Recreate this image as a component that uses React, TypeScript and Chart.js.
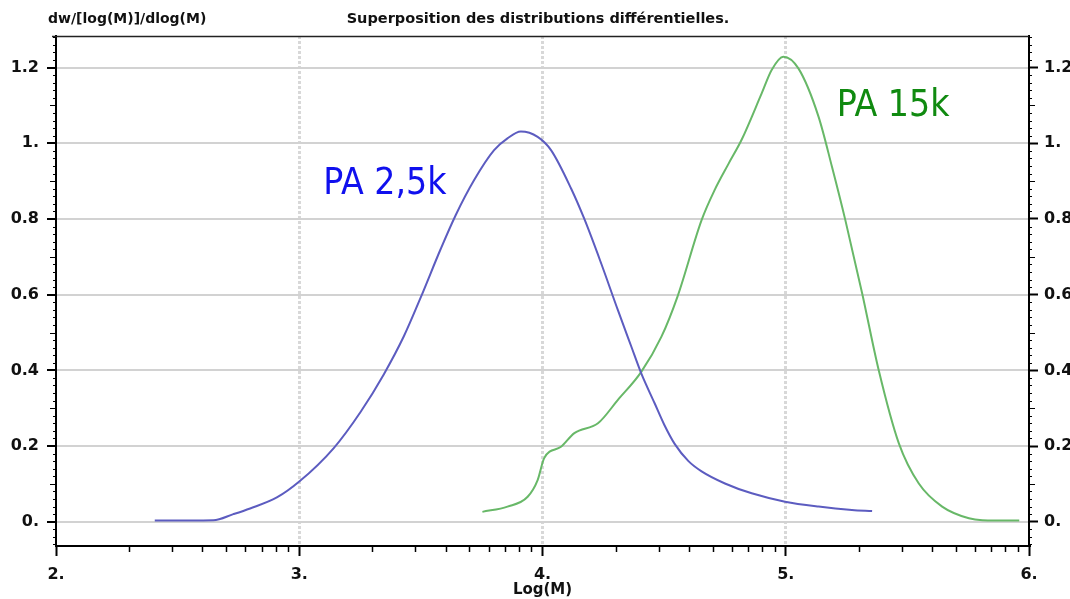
import React, { useEffect, useRef } from "react";
import { Chart, registerables } from "chart.js";

Chart.register(...registerables);

// ---- Data ----
const blueLogM = [2.406, 2.647, 2.729, 2.798, 2.908, 3.0, 3.141, 3.252, 3.348, 3.43, 3.499, 3.581, 3.643, 3.719, 3.801, 3.856, 3.911, 3.98, 4.035, 4.118, 4.172, 4.241, 4.31, 4.365, 4.406, 4.461, 4.5, 4.544, 4.6, 4.654, 4.75, 4.86, 4.997, 5.135, 5.272, 5.355];
const blueW = [0.003, 0.004, 0.02, 0.035, 0.064, 0.106, 0.194, 0.29, 0.39, 0.49, 0.592, 0.72, 0.81, 0.903, 0.982, 1.013, 1.031, 1.017, 0.982, 0.88, 0.8, 0.683, 0.559, 0.463, 0.392, 0.313, 0.257, 0.205, 0.16, 0.133, 0.101, 0.075, 0.053, 0.04, 0.031, 0.028];

const greenLogM = [3.753, 3.856, 3.939, 3.98, 4.007, 4.076, 4.131, 4.228, 4.31, 4.406, 4.489, 4.555, 4.654, 4.708, 4.764, 4.819, 4.901, 4.942, 4.99, 5.052, 5.135, 5.19, 5.245, 5.314, 5.382, 5.465, 5.547, 5.643, 5.753, 5.808, 5.96];
const greenW = [0.026, 0.04, 0.066, 0.11, 0.168, 0.198, 0.234, 0.26, 0.322, 0.396, 0.489, 0.595, 0.797, 0.877, 0.945, 1.01, 1.132, 1.194, 1.229, 1.198, 1.07, 0.938, 0.797, 0.604, 0.401, 0.207, 0.101, 0.04, 0.009, 0.004, 0.003];

const seriesNames = ["PA 2,5k", "PA 15k"];
const seriesLabelX = [3.099, 5.21];
const seriesLabelY = [0.866, 1.072];

const xTickValues = [2, 3, 4, 5, 6];
const xTickLabels = ["2.", "3.", "4.", "5.", "6."];
const xGridValues = [3, 4, 5];
const yTickValues = [0, 0.2, 0.4, 0.6, 0.8, 1.0, 1.2];
const yTickLabels = ["0.", "0.2", "0.4", "0.6", "0.8", "1.", "1.2"];

const titleText = "Superposition des distributions différentielles.";
const yUnitText = "dw/[log(M)]/dlog(M)";
const xTitleText = "Log(M)";

const BLUE = "rgb(92,92,192)";
const GREEN = "rgb(104,184,104)";
const AXIS_FONT = '"DejaVu Sans", sans-serif';

const decorPlugin = {
  id: "decor",
  afterDraw(chart: any) {
    const { ctx, chartArea: ca, scales } = chart;
    const xs = scales.x;
    const ys = scales.y;
    ctx.save();

    // Header texts
    ctx.fillStyle = "#111";
    ctx.textBaseline = "middle";
    ctx.textAlign = "left";
    ctx.font = `bold 14px ${AXIS_FONT}`;
    ctx.fillText(yUnitText, 48, 19);
    ctx.textAlign = "center";
    ctx.font = `bold 14.5px ${AXIS_FONT}`;
    ctx.fillText(titleText, 538, 19);

    // Top frame line
    ctx.strokeStyle = "#222";
    ctx.lineWidth = 1.5;
    ctx.beginPath();
    ctx.moveTo(ca.left - 4, ca.top + 0.5);
    ctx.lineTo(ca.right, ca.top + 0.5);
    ctx.stroke();

    // Minor log ticks on x axis
    ctx.strokeStyle = "#000";
    ctx.lineWidth = 1.5;
    for (let d = 2; d < 6; d++) {
      for (let k = 2; k <= 9; k++) {
        const px = Math.round(xs.getPixelForValue(d + Math.log10(k))) + 0.5;
        ctx.beginPath();
        ctx.moveTo(px, ca.bottom);
        ctx.lineTo(px, ca.bottom + 6);
        ctx.stroke();
      }
    }

    // Minor ticks on both y axes
    ctx.lineWidth = 1.2;
    for (let i = -3; i <= 64; i++) {
      const v = i * 0.02;
      if (v < ys.min || v > ys.max) continue;
      if (i % 10 === 0) continue;
      const py = Math.round(ys.getPixelForValue(v)) + 0.5;
      const len = i % 5 === 0 ? 6 : 3;
      ctx.beginPath();
      ctx.moveTo(ca.left - len, py);
      ctx.lineTo(ca.left + 1, py);
      ctx.moveTo(ca.right - 1, py);
      ctx.lineTo(ca.right + len, py);
      ctx.stroke();
    }

    // Series labels
    ctx.font = '37px "DejaVu Sans Condensed", "DejaVu Sans", sans-serif';
    ctx.textAlign = "left";
    ctx.textBaseline = "alphabetic";
    const colors = ["#1010ee", "#108a10"];
    seriesNames.forEach((name, i) => {
      ctx.fillStyle = colors[i];
      ctx.fillText(name, xs.getPixelForValue(seriesLabelX[i]), ys.getPixelForValue(seriesLabelY[i]));
    });

    ctx.restore();
  },
};

export default function App() {
  const canvasRef = useRef<HTMLCanvasElement | null>(null);

  useEffect(() => {
    if (!canvasRef.current) return;
    const yMin = -0.0642;
    const yMax = 1.2836;
    const yTickCb = (v: any) => {
      const idx = yTickValues.findIndex((t) => Math.abs(t - v) < 1e-6);
      return idx >= 0 ? yTickLabels[idx] : "";
    };
    const yTicksBuild = (scale: any) => {
      scale.ticks = yTickValues.map((v) => ({ value: v }));
    };
    const chart = new Chart(canvasRef.current, {
      type: "line",
      data: {
        datasets: [
          {
            label: seriesNames[0],
            data: blueLogM.map((x, i) => ({ x, y: blueW[i] })),
            borderColor: BLUE,
            borderWidth: 2,
            pointRadius: 0,
            cubicInterpolationMode: "monotone",
            fill: false,
          },
          {
            label: seriesNames[1],
            data: greenLogM.map((x, i) => ({ x, y: greenW[i] })),
            borderColor: GREEN,
            borderWidth: 2,
            pointRadius: 0,
            cubicInterpolationMode: "monotone",
            fill: false,
          },
        ],
      },
      options: {
        animation: false,
        responsive: false,
        devicePixelRatio: 1,
        layout: { padding: { top: 36, left: 0, right: 0, bottom: 0 } },
        plugins: {
          legend: { display: false },
          tooltip: { enabled: false },
          title: { display: false },
        },
        scales: {
          x: {
            type: "linear",
            min: 2,
            max: 6,
            afterBuildTicks: (scale: any) => {
              scale.ticks = xTickValues.map((v) => ({ value: v }));
            },
            afterFit: (scale: any) => {
              scale.height = 53;
            },
            ticks: {
              autoSkip: false,
              maxRotation: 0,
              padding: 9,
              color: "#111",
              font: { family: AXIS_FONT, size: 16, weight: "bold" },
              callback: (v: any) => {
                const idx = xTickValues.indexOf(Number(v));
                return idx >= 0 ? xTickLabels[idx] : "";
              },
            },
            grid: {
              color: (c: any) => (c.tick && xGridValues.includes(c.tick.value) ? "#d8d8d8" : "rgba(0,0,0,0)"),
              lineWidth: 3,
              tickColor: "#000",
              tickLength: 10,
              tickWidth: 2,
            },
            border: { display: true, color: "#000", width: 2, dash: [3, 2] },
            title: {
              display: true,
              text: xTitleText,
              color: "#111",
              font: { family: AXIS_FONT, size: 15, weight: "bold" },
              padding: { top: 0, bottom: 0 },
            },
          },
          y: {
            type: "linear",
            position: "left",
            min: yMin,
            max: yMax,
            afterBuildTicks: yTicksBuild,
            afterFit: (scale: any) => {
              scale.width = 56;
            },
            ticks: {
              autoSkip: false,
              padding: 8,
              color: "#111",
              font: { family: AXIS_FONT, size: 16, weight: "bold" },
              callback: yTickCb,
            },
            grid: {
              color: "#d2d2d2",
              lineWidth: 2,
              tickColor: "#000",
              tickLength: 9,
              tickWidth: 2,
            },
            border: { display: true, color: "#000", width: 2 },
          },
          y2: {
            type: "linear",
            position: "right",
            min: yMin,
            max: yMax,
            afterBuildTicks: yTicksBuild,
            afterFit: (scale: any) => {
              scale.width = 41;
            },
            ticks: {
              autoSkip: false,
              padding: 6,
              color: "#111",
              font: { family: AXIS_FONT, size: 16, weight: "bold" },
              callback: yTickCb,
            },
            grid: {
              drawOnChartArea: false,
              tickColor: "#000",
              tickLength: 9,
              tickWidth: 2,
            },
            border: { display: true, color: "#000", width: 2 },
          },
        },
      } as any,
      plugins: [decorPlugin],
    });
    return () => chart.destroy();
  }, []);

  return (
    <div style={{ position: "absolute", left: 0, top: 0, width: 1070, height: 599, background: "#fff" }}>
      <canvas ref={canvasRef} width={1070} height={599} style={{ display: "block" }} />
    </div>
  );
}
